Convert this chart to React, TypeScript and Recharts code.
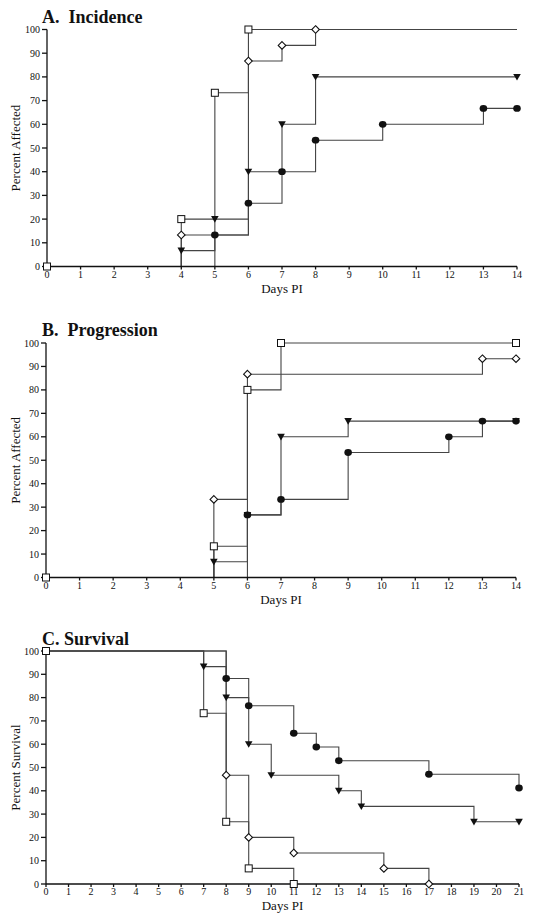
import React from 'react'
import { LineChart, Line, XAxis, YAxis } from 'recharts'

// each point: [day, percent, marker drawn (1) or line only (0)]
type Pt = [number, number, number]

// A. Incidence
const incSquare: Pt[] = [[0, 0, 1], [4, 20, 1], [5, 73.3, 1], [6, 100, 1], [14, 100, 0]]
const incDiamond: Pt[] = [[0, 0, 0], [4, 13.3, 1], [6, 86.7, 1], [7, 93.3, 1], [8, 100, 1], [14, 100, 0]]
const incTriangle: Pt[] = [[0, 0, 0], [4, 6.7, 1], [5, 20, 1], [6, 40, 1], [7, 60, 1], [8, 80, 1], [14, 80, 1]]
const incCircle: Pt[] = [[0, 0, 0], [5, 13.3, 1], [6, 26.7, 1], [7, 40, 1], [8, 53.3, 1], [10, 60, 1], [13, 66.7, 1], [14, 66.7, 1]]

// B. Progression
const progSquare: Pt[] = [[0, 0, 1], [5, 13.3, 1], [6, 80, 1], [7, 100, 1], [14, 100, 1]]
const progDiamond: Pt[] = [[0, 0, 0], [5, 33.3, 1], [6, 86.7, 1], [13, 93.3, 1], [14, 93.3, 1]]
const progTriangle: Pt[] = [[0, 0, 0], [5, 6.7, 1], [6, 26.7, 1], [7, 60, 1], [9, 66.7, 1], [14, 66.7, 1]]
const progCircle: Pt[] = [[0, 0, 0], [6, 26.7, 1], [7, 33.3, 1], [9, 53.3, 1], [12, 60, 1], [13, 66.7, 1], [14, 66.7, 1]]

// C. Survival
const survSquare: Pt[] = [[0, 100, 1], [7, 73.3, 1], [8, 26.7, 1], [9, 6.7, 1], [11, 0, 1]]
const survDiamond: Pt[] = [[0, 100, 0], [8, 46.7, 1], [9, 20, 1], [11, 13.3, 1], [15, 6.7, 1], [17, 0, 1]]
const survTriangle: Pt[] = [[0, 100, 0], [7, 93.3, 1], [8, 80, 1], [9, 60, 1], [10, 46.7, 1], [13, 40, 1], [14, 33.3, 1], [19, 26.7, 1], [21, 26.7, 1]]
const survCircle: Pt[] = [[0, 100, 0], [8, 88.2, 1], [9, 76.5, 1], [11, 64.7, 1], [12, 58.8, 1], [13, 52.9, 1], [17, 47.1, 1], [21, 41.2, 1]]

const yTicks = [0, 10, 20, 30, 40, 50, 60, 70, 80, 90, 100]
const xTicks14 = [0, 1, 2, 3, 4, 5, 6, 7, 8, 9, 10, 11, 12, 13, 14]
const xTicks21 = [0, 1, 2, 3, 4, 5, 6, 7, 8, 9, 10, 11, 12, 13, 14, 15, 16, 17, 18, 19, 20, 21]

const FONT = '"Liberation Serif", "Times New Roman", serif'
const INK = '#111'
const LINE = '#444'

type Kind = 'circle' | 'triangle' | 'diamond' | 'square'

function marker(kind: Kind, p: any) {
  const { cx, cy, payload, index } = p
  const key = `${kind}-${index}`
  if (!payload?.m || cx == null || cy == null) return <g key={key} />
  if (kind === 'square')
    return <rect key={key} x={cx - 3.5} y={cy - 3.5} width={7} height={7} fill="#fff" stroke={INK} strokeWidth={1} />
  if (kind === 'diamond')
    return <polygon key={key} points={`${cx},${cy - 3.8} ${cx + 3.8},${cy} ${cx},${cy + 3.8} ${cx - 3.8},${cy}`} fill="#fff" stroke={INK} strokeWidth={1.1} />
  if (kind === 'triangle')
    return <polygon key={key} points={`${cx - 3.8},${cy - 3} ${cx + 3.8},${cy - 3} ${cx},${cy + 3.6}`} fill={INK} />
  return <ellipse key={key} cx={cx} cy={cy} rx={3.8} ry={3.4} fill={INK} />
}

const rows = (pts: Pt[]) => pts.map(([x, y, m]) => ({ x, y, m }))

interface PanelProps {
  top: number
  plotTop: number
  plotBottom: number
  plotLeft: number
  plotRight: number
  xTicks: number[]
  yLabel: string
  series: [Kind, Pt[]][]
}

const H = 305
const XAXIS_H = 36

function Panel({ top, plotTop, plotBottom, plotLeft, plotRight, xTicks, yLabel, series }: PanelProps) {
  return (
    <div style={{ position: 'absolute', left: 0, top, width: 540, height: H }}>
      <LineChart
        width={540}
        height={H}
        margin={{ top: plotTop, right: 540 - plotRight, bottom: H - plotBottom - XAXIS_H, left: 0 }}
      >
        <XAxis
          type="number"
          dataKey="x"
          domain={[0, xTicks[xTicks.length - 1]]}
          ticks={xTicks}
          interval={0}
          height={XAXIS_H}
          stroke={INK}
          strokeWidth={1.3}
          tickSize={3}
          tickMargin={1}
          tick={{ fontSize: 10, fill: INK, fontFamily: FONT }}
          label={{ value: 'Days PI', position: 'insideBottom', offset: 10, fontSize: 13, fill: INK, fontFamily: FONT }}
        />
        <YAxis
          type="number"
          dataKey="y"
          domain={[0, 100]}
          ticks={yTicks}
          interval={0}
          width={plotLeft}
          stroke={INK}
          strokeWidth={1.3}
          tickSize={5}
          tickMargin={2}
          tick={{ fontSize: 10, fill: INK, fontFamily: FONT }}
          label={{
            content: (props: any) => {
              const vb = props.viewBox || {}
              const cx = 15
              const cy = (vb.y ?? 0) + (vb.height ?? 0) / 2
              return (
                <text x={cx} y={cy} transform={`rotate(-90 ${cx} ${cy})`} textAnchor="middle"
                  dominantBaseline="central" fontSize={13} fill={INK} fontFamily={FONT}>
                  {yLabel}
                </text>
              )
            },
          }}
        />
        {series.map(([kind, pts]) => (
          <Line
            key={kind}
            data={rows(pts)}
            dataKey="y"
            type="stepAfter"
            stroke={LINE}
            strokeWidth={1.1}
            isAnimationActive={false}
            activeDot={false}
            dot={(p: any) => marker(kind, p)}
          />
        ))}
      </LineChart>
    </div>
  )
}

export default function App() {
  const titleStyle = { fontFamily: FONT, fontWeight: 700, fontSize: 18, fill: INK, whiteSpace: 'pre' as const }
  return (
    <div style={{ position: 'absolute', left: 0, top: 0, width: 540, height: 920, background: '#fff' }}>
      <Panel
        top={0}
        plotTop={29.5}
        plotBottom={266.5}
        plotLeft={47}
        plotRight={517}
        xTicks={xTicks14}
        yLabel="Percent Affected"
        series={[['circle', incCircle], ['triangle', incTriangle], ['diamond', incDiamond], ['square', incSquare]]}
      />
      <Panel
        top={310}
        plotTop={33}
        plotBottom={267.5}
        plotLeft={46}
        plotRight={516}
        xTicks={xTicks14}
        yLabel="Percent Affected"
        series={[['circle', progCircle], ['triangle', progTriangle], ['diamond', progDiamond], ['square', progSquare]]}
      />
      <Panel
        top={615}
        plotTop={36}
        plotBottom={269}
        plotLeft={46}
        plotRight={519}
        xTicks={xTicks21}
        yLabel="Percent Survival"
        series={[['circle', survCircle], ['triangle', survTriangle], ['diamond', survDiamond], ['square', survSquare]]}
      />
      <svg width={540} height={920} style={{ position: 'absolute', left: 0, top: 0, pointerEvents: 'none' }}>
        <text x={42} y={22.5} style={titleStyle}>A.  Incidence</text>
        <text x={42} y={336} style={titleStyle}>B.  Progression</text>
        <text x={42} y={645} style={titleStyle}>C. Survival</text>
      </svg>
    </div>
  )
}
